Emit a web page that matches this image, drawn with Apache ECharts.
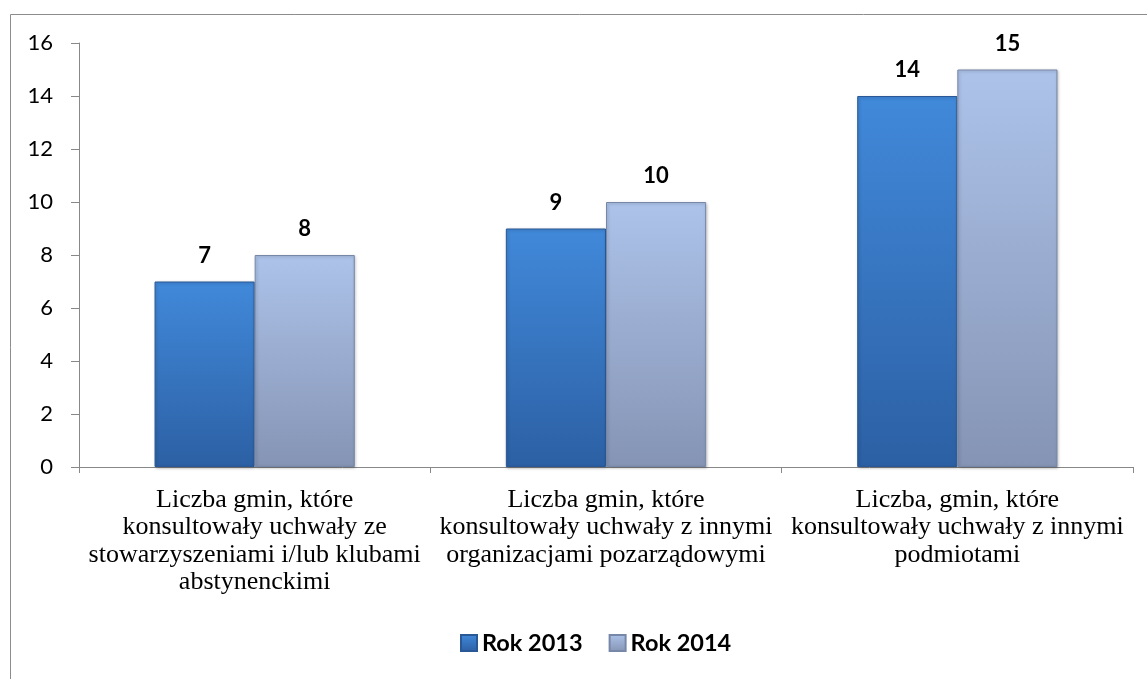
<!DOCTYPE html>
<html>
<head>
<meta charset="utf-8">
<script src="https://cdn.jsdelivr.net/npm/echarts@6/dist/echarts.min.js"></script>
<style>
html,body{margin:0;padding:0;background:#fff;}
#c{width:1147px;height:679px;}
</style>
</head>
<body>
<div id="c"></div>
<script>
const categories = [
  "Liczba gmin, które\nkonsultowały uchwały ze\nstowarzyszeniami i/lub klubami\nabstynenckimi",
  "Liczba gmin, które\nkonsultowały uchwały z innymi\norganizacjami pozarządowymi",
  "Liczba, gmin, które\nkonsultowały uchwały z innymi\npodmiotami"
];
const seriesNames = ["Rok 2013", "Rok 2014"];
const values2013 = [7, 9, 14];
const values2014 = [8, 10, 15];

const chart = echarts.init(document.getElementById('c'));
function grad(top, bottom) {
  return new echarts.graphic.LinearGradient(0, 0, 0, 1, [
    {offset: 0, color: top},
    {offset: 1, color: bottom}
  ]);
}
const labelStyle = {
  show: true, position: 'top', distance: 15,
  fontFamily: 'Lato', fontWeight: 'bold', fontSize: 22, color: '#000'
};
chart.setOption({
  animation: false,
  graphic: [{
    type: 'rect', silent: true,
    shape: {x: 10.5, y: 14.5, width: 1140, height: 720},
    style: {fill: 'none', stroke: '#8c8c8c', lineWidth: 1}
  }],
  grid: {left: 79, right: 14, top: 43, bottom: 212, containLabel: false},
  legend: {
    data: seriesNames,
    bottom: 19,
    left: 455,
    icon: 'rect',
    itemWidth: 16, itemHeight: 16,
    itemGap: 26,
    textStyle: {fontFamily: 'Lato', fontWeight: 'bold', fontSize: 23.5, color: '#000'}
  },
  xAxis: {
    type: 'category',
    data: categories,
    axisLine: {lineStyle: {color: '#888'}},
    axisTick: {show: true, length: 6, lineStyle: {color: '#888'}},
    axisLabel: {
      interval: 0, margin: 19,
      fontFamily: 'Liberation Serif', fontSize: 26, lineHeight: 27.5, color: '#000'
    }
  },
  yAxis: {
    type: 'value', min: 0, max: 16, interval: 2,
    axisLine: {show: true, lineStyle: {color: '#888'}},
    axisTick: {show: true, length: 8, lineStyle: {color: '#888'}},
    splitLine: {show: false},
    axisLabel: {margin: 26, fontFamily: 'Lato', fontSize: 22, color: '#000'}
  },
  series: [
    {
      name: seriesNames[0], type: 'bar', data: values2013,
      barGap: '0%', barCategoryGap: '43%',
      itemStyle: {color: grad('#4189da', '#2c60a4'), borderColor: '#2a5896', borderWidth: 1,
        shadowColor: 'rgba(0,0,0,0.25)', shadowBlur: 3, shadowOffsetX: 1, shadowOffsetY: 1},
      label: labelStyle
    },
    {
      name: seriesNames[1], type: 'bar', data: values2014,
      itemStyle: {color: grad('#adc3ea', '#8594b4'), borderColor: '#7687a8', borderWidth: 1,
        shadowColor: 'rgba(0,0,0,0.25)', shadowBlur: 3, shadowOffsetX: 1, shadowOffsetY: 1},
      label: labelStyle
    }
  ]
});
</script>
</body>
</html>
